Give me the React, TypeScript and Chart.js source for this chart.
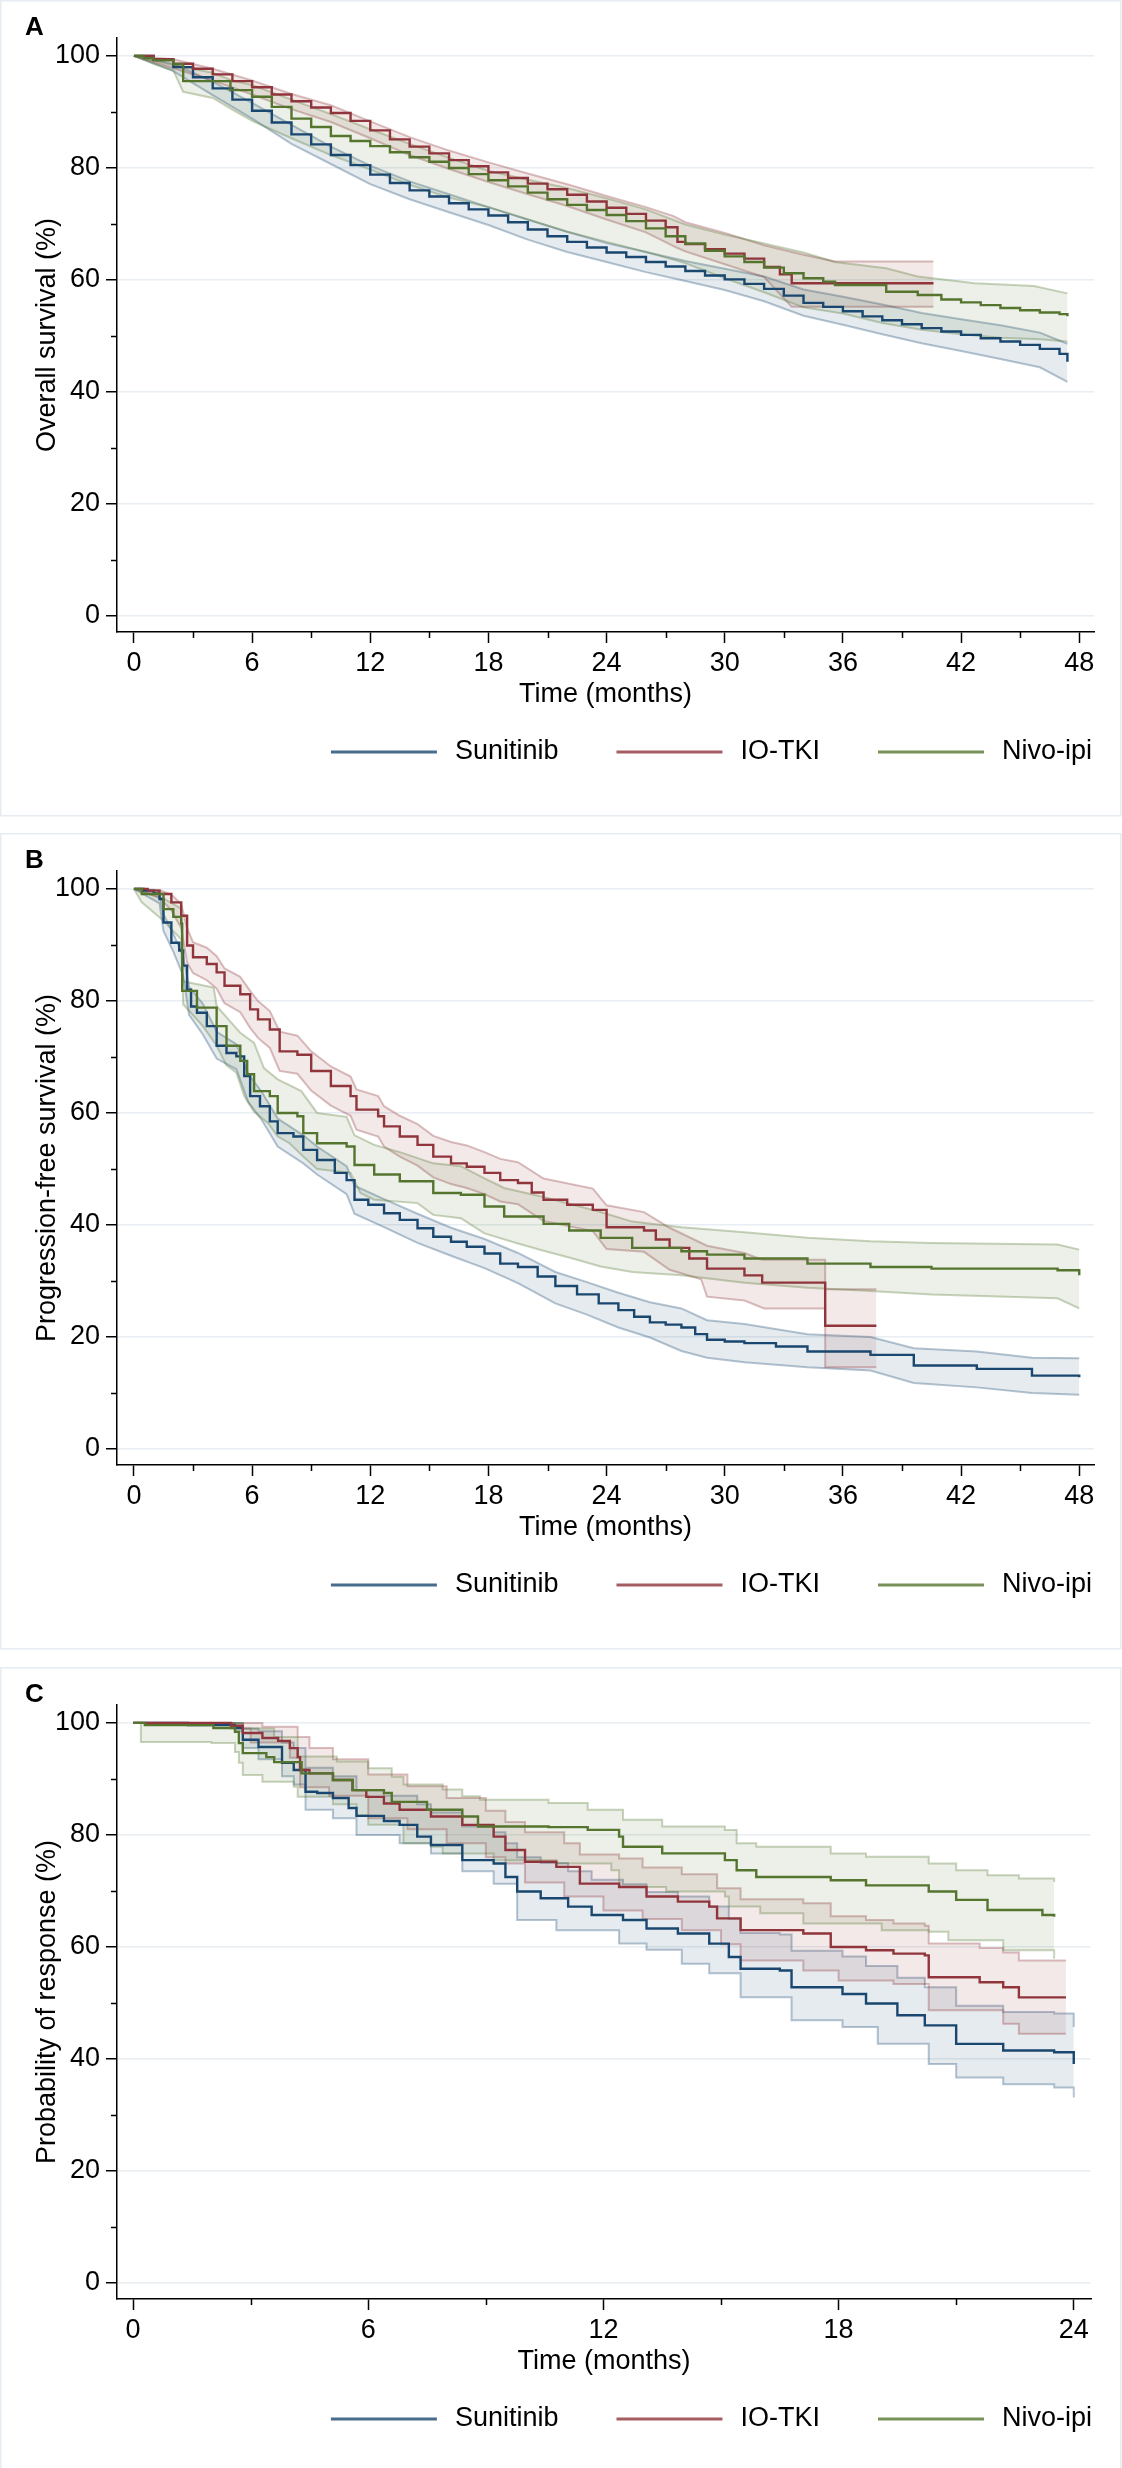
import React, { useEffect, useRef } from "react";
import { Chart, registerables } from "chart.js";
Chart.register(...registerables);

type Pt = [number, number];

if (typeof document !== "undefined") document.body.style.margin = "0";

// ---------- labels ----------
const groups = ["Sunitinib", "IO-TKI", "Nivo-ipi"];
const panelLetters = ["A", "B", "C"];
const yTitles = ["Overall survival (%)", "Progression-free survival (%)", "Probability of response (%)"];
const xTitle = "Time (months)";
const yTicks = [0, 20, 40, 60, 80, 100];
const yMinorTicks = [10, 30, 50, 70, 90];
const xTicks48 = [0, 6, 12, 18, 24, 30, 36, 42, 48];
const xMinor48 = [3, 9, 15, 21, 27, 33, 39, 45];
const xTicks24 = [0, 6, 12, 18, 24];
const xMinor24 = [3, 9, 15, 21];

// ---------- Panel A: overall survival ----------
const osSunEst: Pt[] = [[0,100],[1,99.3],[2,98],[3,96.2],[4,94.2],[5,92.2],[6,90.2],[7,88.1],[8,86],[9,84.2],[10,82.3],[11,80.5],[12,78.8],[13,77.3],[14,76],[15,74.9],[16,73.7],[17,72.6],[18,71.5],[19,70.3],[20,69],[21,67.8],[22,66.8],[23,65.8],[24,64.9],[25,64.1],[26,63.2],[27,62.4],[28,61.6],[29,60.8],[30,60.1],[31,59.3],[32,58.4],[33,57.2],[34,55.9],[35,55.2],[36,54.4],[37,53.5],[38,52.8],[39,52.1],[40,51.4],[41,50.8],[42,50.2],[43,49.6],[44,49],[45,48.4],[46,47.7],[47,46.8],[47.4,45.4]];
const osSunHi: Pt[] = [[0,100],[2,98.6],[4,95.4],[6,91.6],[8,87.7],[10,83.8],[12,80.4],[14,77.6],[16,75.3],[18,73],[20,70.8],[22,68.6],[24,66.6],[26,65],[28,63.4],[30,62],[32,60.6],[34,58.3],[36,57],[38,55.6],[40,54.1],[42,53],[44,51.9],[46,50.6],[47.4,48.6]];
const osSunLo: Pt[] = [[0,100],[2,97.3],[4,93],[6,88.8],[8,84.3],[10,80.7],[12,77.1],[14,74.4],[16,72.1],[18,69.8],[20,67.2],[22,65],[24,63.2],[26,61.4],[28,59.8],[30,58.2],[32,56.2],[34,53.6],[36,52],[38,50.3],[40,48.7],[42,47.3],[44,45.9],[46,44.4],[47.4,41.8]];

const osIoEst: Pt[] = [[0,100],[1,99.4],[2,98.6],[3,97.7],[4,96.7],[5,95.5],[6,94.4],[7,93.1],[8,91.9],[9,90.8],[10,89.8],[11,88.4],[12,86.7],[13,85.1],[14,83.8],[15,82.6],[16,81.4],[17,80.3],[18,79.2],[19,78.2],[20,77.2],[21,76.2],[22,75.2],[23,74],[24,72.9],[25,71.8],[26,70.6],[27,69.4],[27.6,66.8],[28,66.4],[29,65.5],[30,64.7],[31,63.8],[32,62.3],[32.8,61],[33.4,59.4],[40.6,59.4]];
const osIoHi: Pt[] = [[0,100],[2,99.4],[4,97.7],[6,95.6],[8,93.2],[10,91.2],[12,88.3],[14,85.5],[16,83.1],[18,81],[20,79],[22,77.1],[24,75],[26,73],[27.4,71.4],[28,70.3],[30,68.4],[32,66.2],[34,64.5],[35.6,63.3],[40.6,63.3]];
const osIoLo: Pt[] = [[0,100],[2,97.8],[4,95.6],[6,93.1],[8,90.5],[10,88.2],[12,85.3],[14,82.3],[16,79.8],[18,77.5],[20,75.3],[22,73.2],[24,70.8],[26,68.5],[27.6,65.7],[28,65.1],[30,62.8],[32,60.5],[33.4,55.2],[40.6,55.2]];

const osNivoEst: Pt[] = [[0,100],[0.5,99.6],[1,99.2],[2,98.5],[2.5,95.5],[4.9,93.9],[6,92.7],[7,90.9],[8,88.8],[9,87.3],[10,85.7],[11,84.8],[12,83.9],[13,82.8],[14,81.9],[15,81.1],[16,80],[17,78.9],[18,77.8],[19,76.7],[20,75.6],[21,74.4],[22,73.4],[23,72.5],[24,71.6],[25,70.5],[26,69.2],[27,67.8],[28,66.5],[29,65.2],[30,64.2],[31,63.2],[32,62.2],[33,61.2],[34,60.3],[35,59.7],[35.6,59.1],[38.2,57.9],[39.8,57.3],[41,56.5],[42,56],[43,55.5],[44,55],[45,54.6],[46,54.2],[47,53.9],[47.4,53.5]];
const osNivoHi: Pt[] = [[0,100],[2.5,98],[4,97],[5,95.6],[6,94.8],[8,92.2],[10,89.6],[12,86.9],[14,84.3],[16,81.8],[18,79.5],[20,77.9],[22,76.4],[24,74.6],[26,72.6],[28,69.9],[30,68.1],[32,66.5],[34,64.9],[35.6,63.2],[38.2,62.1],[39.8,60.6],[42.7,59.4],[45.7,58.9],[47.4,57.6]];
const osNivoLo: Pt[] = [[0,100],[1,98.6],[2,97.4],[2.5,93.6],[4,92.5],[5,90.4],[6,88.4],[8,85.3],[10,82.3],[12,79.7],[14,77],[16,74.7],[18,73],[20,70.8],[22,68.6],[24,66.8],[26,65],[28,63],[30,60.3],[32,57.8],[34,55.1],[36,54],[38,52.3],[40,51.1],[42,50.3],[44,49.7],[46,49.4],[47.4,49]];

// ---------- Panel B: progression-free survival ----------
const pfsSunEst: Pt[] = [[0,100],[0.5,99.7],[1,99.2],[1.3,98.2],[1.5,94],[1.9,90.4],[2.3,89],[2.5,86.3],[2.7,82],[2.9,79],[3.2,77.9],[3.7,75.5],[4.2,72],[4.7,70.7],[5.2,70.1],[5.6,66.6],[5.9,63],[6.4,61.2],[6.9,58.5],[7.3,56.4],[8.1,55.8],[8.6,53.4],[9.3,51.6],[10.2,49.3],[10.8,48],[11.2,44.5],[11.9,43.6],[12.7,42.1],[13.5,40.9],[14.4,39.4],[15.2,37.9],[16.1,37],[16.9,36.1],[17.8,34.9],[18.6,33.1],[19.5,32.5],[20.5,30.8],[21.4,29.1],[22.5,27.6],[23.6,26],[24.6,24.8],[25.4,23.6],[26.2,22.6],[27,22.2],[27.8,21.7],[28.5,20.5],[29.1,19.5],[30,19.2],[31,18.9],[32.6,18.3],[34.2,17.4],[37.4,16.8],[39.6,14.9],[42.8,14.3],[45.6,13.1],[48,12.8]];
const pfsSunHi: Pt[] = [[0,100],[1.3,99],[1.5,95.5],[2,92],[2.5,88],[2.8,82.5],[3.5,79.5],[4.2,74.5],[5.2,72.3],[5.8,67],[6.5,63.7],[7.3,59],[8.6,56],[9.3,54],[10.8,50.5],[11.2,47],[12.7,44.6],[14.4,42],[16.1,39.5],[17.8,37.5],[19.5,35],[21.4,31.6],[23,29.8],[24.6,27.9],[26.2,26.2],[27.8,25.1],[29.1,23],[31,22.3],[34.2,20.5],[37.4,20],[39.6,18],[42.8,17.4],[45.6,16.3],[48,16.2]];
const pfsSunLo: Pt[] = [[0,100],[1.3,97.4],[1.5,92.5],[2,88.8],[2.5,84.5],[2.8,77.5],[3.5,74],[4.2,69.7],[5.2,67.8],[5.8,62],[6.5,58.7],[7.3,54],[8.6,51],[9.3,49],[10.8,45.5],[11.2,42],[12.7,39.6],[14.4,36.8],[16.1,34.5],[17.8,32.3],[19.5,29.6],[21.4,26],[23,24],[24.6,21.7],[26.2,19.9],[27.8,17.5],[29.1,16.3],[31,15.5],[34.2,14.6],[37.4,14],[39.6,11.8],[42.8,11],[45.6,10],[48,9.7]];

const pfsIoEst: Pt[] = [[0,100],[0.7,99.7],[1.3,99.1],[1.9,97.6],[2.4,95.2],[2.7,89.9],[3,87.8],[3.7,86.6],[4.2,85.1],[4.6,82.7],[5.4,81.2],[5.9,78.5],[6.3,76.7],[6.9,74.9],[7.4,71],[8.3,70.4],[9,67.5],[10,64.8],[11,63],[11.3,60.6],[12.4,59.4],[12.7,57.6],[13.5,55.8],[14.4,54.3],[15.2,52.2],[16.1,51],[16.9,50.4],[17.8,49.3],[18.6,48],[19.5,47.5],[20.2,45.8],[20.8,44.5],[22,43.6],[23.3,42.7],[24,39.6],[25.9,39],[26.5,37.4],[27.2,35.9],[28.2,34],[29.1,32.2],[31,31],[31.9,29.7],[35.1,29.7],[35.1,22],[37.7,22]];
const pfsIoHi: Pt[] = [[0,100],[1.3,99.8],[1.9,99],[2.4,97.3],[2.7,93],[3,90.5],[3.7,89.5],[4.2,88],[4.6,85.8],[5.4,84.3],[5.9,81.8],[6.3,80],[6.9,78.2],[7.4,74.5],[8.3,73.8],[9,71],[10,68.3],[11,66.5],[11.3,64.2],[12.4,63],[12.7,61.2],[13.5,59.5],[14.4,58],[15.2,55.9],[16.1,54.8],[16.9,54.2],[17.8,53],[18.6,51.8],[19.5,51.2],[20.8,48.3],[23.3,46.5],[24,43.5],[25.9,42.3],[27.2,39.5],[29.1,36.3],[31,35],[31.9,33.8],[35.1,33.8],[35.1,28.5],[37.7,28.5]];
const pfsIoLo: Pt[] = [[0,100],[1.3,98.4],[1.9,96.2],[2.4,93],[2.7,86.8],[3,85],[3.7,83.7],[4.2,82.2],[4.6,79.6],[5.4,78],[5.9,75.2],[6.3,73.4],[6.9,71.6],[7.4,67.5],[8.3,67],[9,64],[10,61.3],[11,59.5],[11.3,57],[12.4,55.8],[12.7,54],[13.5,52.2],[14.4,50.6],[15.2,48.5],[16.1,47.3],[16.9,46.6],[17.8,45.5],[18.6,44.2],[19.5,43.7],[20.8,40.7],[23.3,38.9],[24,35.7],[25.9,35.2],[27.2,32],[28.8,30.3],[29.1,27.2],[31,26.5],[32,25.1],[35.1,25.1],[35.1,14.6],[37.7,14.6]];

const pfsNivoEst: Pt[] = [[0,100],[0.4,99.1],[1.5,96.4],[2,95],[2.4,93.8],[2.45,81.8],[3.2,78.8],[4.2,75.5],[4.7,72],[5.4,69.3],[5.75,66.9],[6.1,63.9],[6.9,63],[7.3,60],[8.3,59.4],[8.6,56.4],[9.3,54.6],[10.8,54],[11.2,50.7],[12.2,49],[13.5,47.8],[15.2,45.7],[16.6,45.4],[17.8,43.3],[18.8,41.5],[20.8,40.2],[22.1,39],[23.7,37.7],[25.3,35.9],[27.8,35.3],[29.1,34.7],[31,34],[34.2,33.1],[37.4,32.5],[40.5,32.2],[46.9,31.9],[48,31]];
const pfsNivoHi: Pt[] = [[0,100],[1.5,98.3],[2.4,96.5],[2.5,83.5],[4.05,82.4],[4.2,79.1],[5.4,74.3],[6.1,72.5],[6.6,68],[7.3,66],[8.5,63.9],[9.3,60],[10.8,59.3],[11.2,56],[12.2,54.3],[13.5,53],[15.2,51],[16.6,50.5],[17.8,48.3],[18.8,46.6],[20.8,45],[22.1,43.8],[23.7,42.3],[25.3,40.6],[27.8,39.6],[31,38.7],[34.2,37.7],[37.4,37.1],[40.5,36.8],[46.9,36.5],[48,35.6]];
const pfsNivoLo: Pt[] = [[0,100],[0.4,97.6],[1.5,94.3],[2.4,91],[2.5,79.4],[3.5,75.5],[4.2,72],[4.7,68.5],[5.2,67.2],[5.6,63],[6.1,60.2],[6.8,58.2],[7.3,55.8],[7.9,54.6],[8.6,52.2],[9.3,50],[11,49.3],[11.5,45.7],[12.2,44.5],[14.4,43.9],[15.2,41.8],[16.6,41.2],[17.8,38.5],[19.5,36.7],[20.8,35.4],[22.1,34.2],[23.7,32.6],[25.3,31.6],[27.8,31],[31,29.7],[34.2,28.8],[37.4,28.2],[40.5,27.6],[46.9,26.9],[48,25.1]];

// ---------- Panel C: probability of response ----------
const rspSunEst: Pt[] = [[0,100],[1.4,99.6],[2.6,99.1],[2.8,97],[3.2,95.7],[3.8,92.9],[4.1,91.6],[4.4,87.7],[4.7,87.5],[5.1,86.6],[5.5,84.8],[5.7,83.4],[6.4,82.5],[6.8,81.8],[7.25,79.7],[7.6,78.2],[8.4,75.5],[9.2,74.9],[9.5,72.5],[9.8,69.9],[10.4,68.7],[11.1,67.2],[11.7,65.7],[12.5,64.8],[13.1,63.3],[13.9,62.4],[14.7,60.6],[15.2,58.2],[15.5,56.1],[16.5,55.8],[16.8,52.8],[18.1,51.6],[18.7,49.9],[19.5,47.8],[20.2,46],[21,42.7],[22.2,41.5],[23.5,41.2],[24,39.1]];
const rspSunHi: Pt[] = [[0,100],[2.6,100],[2.8,99],[3.2,98.5],[3.8,96.5],[4.1,95.5],[4.4,92],[5.1,90.5],[5.7,88],[6.4,87],[7.25,85.5],[7.6,84],[8.4,81.5],[9.2,80.5],[9.5,78.5],[9.8,76],[10.4,75],[11.1,73.5],[11.7,72],[12.5,71.2],[13.1,69.8],[13.9,69],[14.7,67.2],[15.2,65],[15.5,62.5],[16.5,62.2],[16.8,59.3],[18.1,58.3],[18.7,56.6],[19.5,54.5],[20.2,52.8],[21,49.5],[22.2,48.4],[23.5,48.1],[24,45.7]];
const rspSunLo: Pt[] = [[0,100],[2.6,98.5],[2.8,95.5],[3.2,93.5],[3.8,90.5],[4.1,89],[4.4,84.5],[5.1,83],[5.7,80],[6.8,78.5],[7.6,76.7],[8.4,73.5],[9.2,71.3],[9.8,64.8],[10.8,63],[12.4,60.6],[13.1,59.5],[14,57],[14.7,55.3],[15.5,51],[16.8,46.9],[18.1,45.7],[19,42.7],[20.3,39.1],[21,36.7],[22.2,35.5],[23.5,34.9],[24,33.1]];

const rspIoEst: Pt[] = [[0,100],[2,100],[2.5,99.5],[2.8,98.2],[3.3,97.3],[3.7,96.8],[4,95.5],[4.2,93.9],[4.26,91.6],[4.5,91],[5.1,89.8],[5.6,88],[5.95,86.8],[6.4,85.6],[6.8,84.5],[7.6,83.3],[8.4,81.8],[9.2,79.7],[9.5,77.3],[10,75.2],[10.8,74.3],[11.4,71.3],[12.4,70.7],[13.1,69],[13.9,68.1],[14.7,67.2],[14.9,65.1],[15.5,63],[17.1,62.4],[17.8,60],[18.7,59.4],[19.4,58.8],[20.2,58.5],[20.3,54.6],[21.6,53.7],[22.2,52.8],[22.6,51],[23.8,51]];
const rspIoHi: Pt[] = [[0,100],[2.5,100],[3.3,99.3],[4.2,97.5],[4.5,95.5],[5.1,93.5],[6,90.8],[7,88.7],[8,86.6],[9,84.3],[9.5,82.3],[10,80.5],[11,78.5],[11.4,76.5],[12.4,75.8],[13,74.2],[14,73],[14.9,70.5],[15.5,68.5],[17.1,67.8],[17.8,65.5],[18.7,64.8],[19.4,64.2],[20.2,63.8],[20.3,60.6],[21.6,59.8],[22.2,59],[22.6,57.6],[23.8,57.6]];
const rspIoLo: Pt[] = [[0,100],[2,100],[2.5,99],[3,96.5],[4,93.8],[4.26,88.5],[5,87],[6,83],[7,81],[8,78.5],[9,76],[9.5,74.9],[10,71.5],[11,69],[12,66.5],[13,65],[14,63],[15,60.5],[15.5,57.6],[17.1,55.8],[18,54],[19.4,53.4],[20.3,48.7],[22.2,46.3],[22.6,44.5],[23.8,44.5]];

const rspNivoEst: Pt[] = [[0,100],[0.3,99.6],[2.05,99.1],[2.6,98.4],[2.7,96.4],[2.8,94.6],[3.4,93.9],[3.6,93],[4.3,91],[5.1,89.8],[5.6,88],[6.4,87.5],[6.6,85.9],[7.5,84.5],[8.4,83.3],[8.8,81.5],[10.6,81.4],[11.6,80.9],[12.4,79.7],[12.5,77.9],[13.5,76.7],[15.1,75.5],[15.4,73.7],[15.9,72.5],[17.8,71.9],[18.7,71],[20.3,69.9],[21,68.4],[21.8,66.6],[22.6,66.6],[23.2,65.7],[23.5,65.4]];
const rspNivoHi: Pt[] = [[0,100],[2.5,100],[2.8,99],[3.6,97.5],[4.2,94],[5.2,93.1],[6,91.9],[6.6,90.4],[6.9,89],[7.9,88.1],[8.4,86.9],[8.85,86.3],[10.6,85.7],[11.6,84.5],[12.5,82.7],[13.5,81.5],[15.1,80.9],[15.4,78.5],[15.9,77.9],[17.8,76.7],[18.7,76.1],[20.3,74.9],[21,73.7],[21.8,72.8],[22.6,72.2],[23.5,71.6]];
const rspNivoLo: Pt[] = [[0,100],[0.2,96.6],[2,96.4],[2.6,94.8],[2.7,92.9],[2.8,90.7],[3.3,89.5],[4.1,88.6],[4.2,86.8],[5.1,85.5],[5.7,83.5],[6,81.8],[6.9,78.5],[7.6,77.9],[7.9,76.7],[9.2,75.5],[10.8,74.9],[12.2,73.7],[12.4,70.7],[13.6,69.9],[15.1,69],[15.2,67.2],[16,66],[17.1,64.2],[19.1,63],[20.3,62.7],[20.8,61.2],[22.2,59.4],[23.5,57.9]];

// ---------- styling ----------
const FONT = '"Liberation Sans", Arial, Helvetica, sans-serif';
const W = 1122;
const COLORS = [[26, 71, 111], [144, 53, 59], [85, 117, 47]];
const rgba = (c: number[], a: number) => `rgba(${c[0]},${c[1]},${c[2]},${a})`;
const toXY = (a: Pt[]) => a.map(([x, y]) => ({ x, y }));

interface Series { est: Pt[]; lo: Pt[]; hi: Pt[] }
interface PanelDef {
  letter: string; yTitle: string; xMin: number; xMax: number;
  xTicks: number[]; xMinor: number[]; rightPad: number; ciStepped: boolean; series: Series[];
}

const panels: PanelDef[] = [
  { letter: panelLetters[0], yTitle: yTitles[0], xMin: -0.86, xMax: 48.75, xTicks: xTicks48, xMinor: xMinor48, rightPad: 28, ciStepped: false,
    series: [{ est: osSunEst, lo: osSunLo, hi: osSunHi }, { est: osIoEst, lo: osIoLo, hi: osIoHi }, { est: osNivoEst, lo: osNivoLo, hi: osNivoHi }] },
  { letter: panelLetters[1], yTitle: yTitles[1], xMin: -0.86, xMax: 48.75, xTicks: xTicks48, xMinor: xMinor48, rightPad: 28, ciStepped: false,
    series: [{ est: pfsSunEst, lo: pfsSunLo, hi: pfsSunHi }, { est: pfsIoEst, lo: pfsIoLo, hi: pfsIoHi }, { est: pfsNivoEst, lo: pfsNivoLo, hi: pfsNivoHi }] },
  { letter: panelLetters[2], yTitle: yTitles[2], xMin: -0.41, xMax: 24.44, xTicks: xTicks24, xMinor: xMinor24, rightPad: 31, ciStepped: true,
    series: [{ est: rspSunEst, lo: rspSunLo, hi: rspSunHi }, { est: rspIoEst, lo: rspIoLo, hi: rspIoHi }, { est: rspNivoEst, lo: rspNivoLo, hi: rspNivoHi }] },
];

const PLOT_TOP = 38;
const PLOT_BOTTOM = 632;

function decorPlugin(p: PanelDef) {
  return {
    id: "decor",
    beforeDraw(chart: any) {
      const ctx = chart.ctx as CanvasRenderingContext2D;
      ctx.save();
      ctx.fillStyle = "#ffffff";
      ctx.fillRect(0, 0, chart.width, chart.height);
      ctx.strokeStyle = "#e6ecf1";
      ctx.lineWidth = 1.5;
      ctx.strokeRect(0.75, 0.75, chart.width - 2, 815);
      ctx.restore();
    },
    afterDraw(chart: any) {
      const ctx = chart.ctx as CanvasRenderingContext2D;
      const { chartArea, scales } = chart;
      ctx.save();
      // panel letter
      ctx.fillStyle = "#000";
      ctx.font = `bold 26px ${FONT}`;
      ctx.textAlign = "left";
      ctx.textBaseline = "alphabetic";
      ctx.fillText(p.letter, 25, 35);
      // minor ticks
      ctx.strokeStyle = "#000";
      ctx.lineWidth = 1.5;
      ctx.beginPath();
      for (const v of yMinorTicks) {
        const y = Math.round(scales.y.getPixelForValue(v)) + 0.5;
        ctx.moveTo(chartArea.left - 6, y);
        ctx.lineTo(chartArea.left, y);
      }
      for (const v of p.xMinor) {
        const x = Math.round(scales.x.getPixelForValue(v)) + 0.5;
        ctx.moveTo(x, chartArea.bottom);
        ctx.lineTo(x, chartArea.bottom + 6);
      }
      ctx.stroke();
      // legend
      ctx.font = `27px ${FONT}`;
      ctx.textBaseline = "middle";
      const lineLen = 106, gap = 18, itemGap = 58, rightEdge = 1092, ly = 752;
      const widths = groups.map((g) => ctx.measureText(g).width);
      const total = widths.reduce((a, w) => a + lineLen + gap + w, 0) + itemGap * (groups.length - 1);
      let x = rightEdge - total;
      groups.forEach((g, i) => {
        ctx.strokeStyle = rgba(COLORS[i], 0.8);
        ctx.lineWidth = 3;
        ctx.beginPath();
        ctx.moveTo(x, ly);
        ctx.lineTo(x + lineLen, ly);
        ctx.stroke();
        ctx.fillStyle = "#000";
        ctx.fillText(g, x + lineLen + gap, ly);
        x += lineLen + gap + widths[i] + itemGap;
      });
      ctx.restore();
    },
  };
}

function buildConfig(p: PanelDef, H: number): any {
  const datasets: any[] = [];
  const ciStep = p.ciStepped ? "before" : false;
  p.series.forEach((s, g) => {
    const c = COLORS[g];
    datasets.push({
      label: groups[g] + " lower", data: toXY(s.lo), borderColor: rgba(c, 0.32), backgroundColor: rgba(c, 0.11),
      borderWidth: 2, fill: 2 * g + 1, order: 20 - 2 * g, stepped: ciStep, pointRadius: 0, tension: 0,
    });
    datasets.push({
      label: groups[g] + " upper", data: toXY(s.hi), borderColor: rgba(c, 0.32), backgroundColor: "transparent",
      borderWidth: 2, fill: false, order: 19 - 2 * g, stepped: ciStep, pointRadius: 0, tension: 0,
    });
  });
  p.series.forEach((s, g) => {
    datasets.push({
      label: groups[g], data: toXY(s.est), borderColor: rgba(COLORS[g], 1), backgroundColor: "transparent",
      borderWidth: 2.4, fill: false, order: 3 - g, stepped: "before", pointRadius: 0, tension: 0,
    });
  });
  const tickFont = { family: FONT, size: 27 };
  return {
    type: "line",
    data: { datasets },
    options: {
      responsive: false,
      animation: false,
      events: [],
      layout: { padding: { top: PLOT_TOP, right: p.rightPad, left: 0, bottom: 0 } },
      plugins: { legend: { display: false }, tooltip: { enabled: false } },
      scales: {
        x: {
          type: "linear", min: p.xMin, max: p.xMax,
          afterBuildTicks: (s: any) => { s.ticks = p.xTicks.map((v) => ({ value: v })); },
          afterFit: (s: any) => { s.height = H - PLOT_BOTTOM; },
          ticks: { font: tickFont, color: "#000", padding: 4, maxRotation: 0, minRotation: 0, autoSkip: false },
          grid: { drawOnChartArea: false, drawTicks: true, tickLength: 11, tickColor: "#000", tickWidth: 1.5 },
          border: { display: true, color: "#000", width: 1.5 },
          title: { display: true, text: xTitle, font: tickFont, color: "#000", padding: { top: 0, bottom: H - 695 - 16.2 } },
        },
        y: {
          type: "linear", min: -2.86, max: 103.2,
          afterBuildTicks: (s: any) => { s.ticks = yTicks.map((v) => ({ value: v })); },
          afterFit: (s: any) => { s.width = 117; },
          ticks: { font: tickFont, color: "#000", padding: 6, autoSkip: false },
          grid: { color: "#e8eef3", lineWidth: 1.5, drawTicks: true, tickLength: 11, tickColor: "#000", tickWidth: 1.5 },
          border: { display: true, color: "#000", width: 1.5 },
          title: { display: true, text: p.yTitle, font: tickFont, color: "#000", padding: { top: 31, bottom: 0 } },
        },
      },
    },
    plugins: [decorPlugin(p)],
  };
}

function Panel({ def, top, height }: { def: PanelDef; top: number; height: number }) {
  const ref = useRef<HTMLCanvasElement>(null);
  useEffect(() => {
    if (!ref.current) return;
    const chart = new Chart(ref.current, buildConfig(def, height));
    return () => chart.destroy();
  }, [def, height]);
  return (
    <canvas
      ref={ref}
      width={W}
      height={height}
      style={{ position: "absolute", left: 0, top, width: W, height, display: "block" }}
    />
  );
}

const panelTops = [0, 833, 1667];
const panelHeights = [833, 834, 801];

export default function App() {
  useEffect(() => {
    document.body.style.margin = "0";
  }, []);
  return (
    <div style={{ position: "relative", width: W, height: 2468, background: "#fff", overflow: "hidden" }}>
      {panels.map((p, i) => (
        <Panel key={p.letter} def={p} top={panelTops[i]} height={panelHeights[i]} />
      ))}
    </div>
  );
}
